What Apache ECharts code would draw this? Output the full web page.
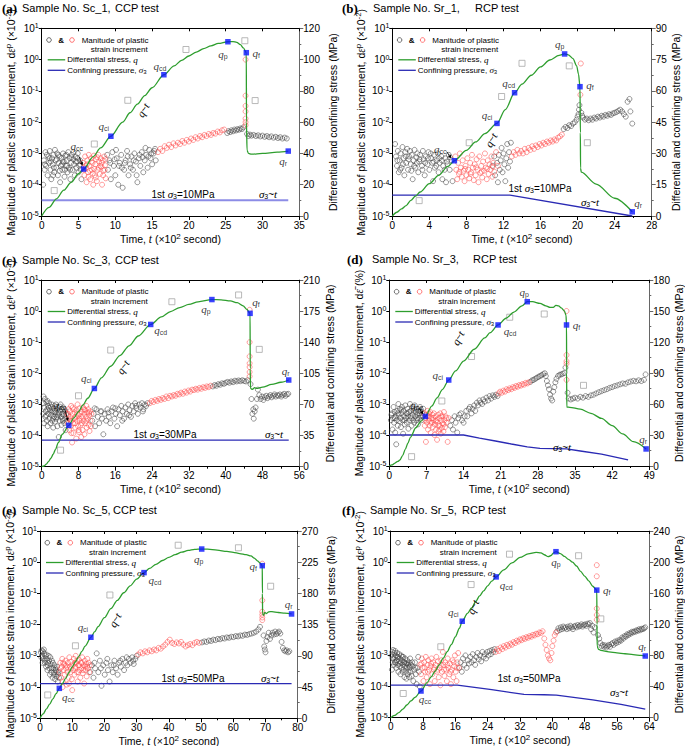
<!DOCTYPE html>
<html><head><meta charset="utf-8">
<script src="https://cdn.jsdelivr.net/npm/echarts@6/dist/echarts.min.js"></script>
<style>html,body{margin:0;padding:0;background:#fff;}#c{width:685px;height:746px;}</style>
</head><body><div id="c"></div>
<script>
// ================= DATA =================
const logTicks = [1e-5, 1e-4, 1e-3, 1e-2, 1e-1, 1, 10];
const keyNames = ['cc', 'ci', 'cd', 'p', 'f', 'r'];

// ---- (a) Sc_1, CCP ----
const xTicksA = [0, 5, 10, 15, 20, 25, 30, 35];
const yTicksA = [0, 20, 40, 60, 80, 100, 120];
const blackA = [[0.2,1e-4],[0.3,6e-4],[0.4,3e-4],[0.5,1.1e-3],[0.6,4e-4],[0.8,2e-4],[0.9,8e-4],[1.0,5e-4],[1.1,1.2e-3],[1.2,3e-4],[1.3,1.5e-4],[1.4,7e-4],[1.5,4.5e-4],[1.6,9e-4],[1.7,2.5e-4],[1.8,1.3e-3],[1.9,6e-4],[2.0,3.5e-4],[2.1,1e-3],[2.2,2e-4],[2.3,5e-4],[2.4,8e-4],[2.5,1.2e-4],[2.6,4e-4],[2.7,7e-4],[2.8,3e-4],[2.9,1e-3],[3.0,5.5e-4],[3.1,1.8e-4],[3.2,8.5e-4],[3.3,4e-4],[3.4,6e-4],[3.5,2.5e-4],[3.6,1.1e-3],[3.7,3.5e-4],[3.8,7e-4],[3.9,1.5e-4],[4.0,5e-4],[4.1,9e-4],[4.2,3e-4],[4.3,6.5e-4],[4.4,4.5e-4],[4.5,2e-4],[4.6,8e-4],[4.7,3.5e-4],[4.8,5.5e-4],[4.9,1e-3],[5.0,2.5e-4],[5.1,4e-4],[5.2,6e-4],[5.3,3e-4],[5.4,1.5e-4],[0.7,9e-4],[1.25,5.5e-4],[2.05,6.5e-4],[2.75,4.5e-4],[3.35,9e-4],[3.85,3e-4],[4.35,1.1e-3],[4.85,7e-4],[1.55,2e-4],[2.45,2.8e-4],[0.45,4.5e-4],[1.05,7e-4],[1.65,3.5e-4],[2.25,9e-4],[2.85,5.5e-4],[3.45,4e-4],[4.05,7.5e-4],[4.65,5.5e-4],[5.25,4.5e-4],[3.15,3e-4],
[8.9,9e-4],[9.0,3e-4],[9.2,6e-4],[9.4,1.5e-4],[9.6,1.1e-3],[9.8,4e-4],[10.0,2e-4],[10.2,7e-4],[10.4,1e-4],[10.6,5e-4],[10.8,9e-4],[11.0,8e-5],[11.2,3e-4],[11.4,6e-4],[11.6,1.2e-3],[11.8,2e-4],[12.0,4.5e-4],[12.2,8e-4],[12.4,3e-4],[12.6,1e-3],[12.8,5.5e-4],[13.0,1.2e-4],[13.2,7e-4],[13.4,4e-4],[13.6,1.1e-3],[13.8,2.5e-4],[14.0,6e-4],[14.2,9e-4],[14.4,3.5e-4],[14.6,1.3e-3],[14.8,7e-4],[15.0,4.5e-4],[15.2,1e-3],[15.4,1.4e-3],[15.5,6e-4],[9.3,5e-4],[10.1,1.3e-3],[10.9,3.5e-4],[11.7,8e-4],[12.5,6e-4],[13.3,9e-4],[14.1,1.5e-3],[14.9,1e-3],[9.9,6.5e-4],[12.9,2e-4],[10.5,4e-4],[11.3,5e-4],[12.1,3.5e-4],[13.7,7.5e-4],[14.5,8e-4],[15.3,1.2e-3],
[25.2,4.5e-3],[25.4,5.2e-3],[25.6,4.8e-3],[25.8,5.5e-3],[26.0,5.1e-3],[26.2,5.8e-3],[26.4,5.4e-3],[26.6,6e-3],[26.8,5.7e-3],[27.0,6.3e-3],[27.2,6e-3],[27.4,6.8e-3],
[27.9,4.2e-3],[28.1,3.6e-3],[28.3,4e-3],[28.5,3.7e-3],[28.8,3.9e-3],[29.1,3.6e-3],[29.4,3.8e-3],[29.7,3.5e-3],[30.0,3.7e-3],[30.3,3.4e-3],[30.6,3.6e-3],[30.9,3.3e-3],[31.2,3.5e-3],[31.5,3.2e-3],[31.8,3.4e-3],[32.1,3.1e-3],[32.4,3.3e-3],[32.7,3e-3],[33.0,3.2e-3],[33.3,3e-3]];
const redA = [[5.6,5e-4],[5.8,2e-4],[5.9,8e-4],[6.0,3.5e-4],[6.1,1.2e-4],[6.2,6e-4],[6.3,2.5e-4],[6.4,9e-4],[6.5,4e-4],[6.6,1.5e-4],[6.7,7e-4],[6.8,3e-4],[6.9,5e-4],[7.0,1e-4],[7.1,8.5e-4],[7.2,2e-4],[7.3,4.5e-4],[7.4,6.5e-4],[7.5,1.3e-4],[7.6,3e-4],[7.7,9e-4],[7.8,5.5e-4],[7.9,2.2e-4],[8.0,7e-4],[8.1,3.8e-4],[8.2,1e-4],[8.3,6e-4],[8.4,2.8e-4],[8.5,8e-4],[8.6,4.2e-4],[8.7,1.6e-4],[5.95,4e-4],[6.35,1.8e-4],[6.75,5.5e-4],[7.15,3.2e-4],[7.55,7.5e-4],[7.95,4e-4],[8.35,2e-4],[8.65,6.5e-4],[6.55,2.8e-4],[7.35,1.7e-4],[5.75,3e-4],[6.15,4.5e-4],[6.95,2.3e-4],[7.75,3.5e-4],[8.15,5e-4],[8.55,3e-4],
[15.8,1.1e-3],[16.1,1.4e-3],[16.4,1.2e-3],[16.7,1.7e-3],[17.0,1.5e-3],[17.3,1.9e-3],[17.6,1.6e-3],[17.9,2.1e-3],[18.2,1.8e-3],[18.5,2.2e-3],[18.8,2e-3],[19.1,2.5e-3],[19.4,2.2e-3],[19.7,2.7e-3],[20.0,2.4e-3],[20.3,3e-3],[20.6,2.7e-3],[20.9,3.3e-3],[21.2,3e-3],[21.5,3.6e-3],[21.8,3.3e-3],[22.1,3.9e-3],[22.4,3.6e-3],[22.7,4.2e-3],[23.0,3.9e-3],[23.3,4.5e-3],[23.6,4.3e-3],[23.9,5e-3],[24.2,4.7e-3],[24.5,5.5e-3],[24.8,5.8e-3],
[27.7,1.0],[27.7,7e-2],[27.7,3.3e-2],[27.7,2.2e-2],[27.7,1.3e-2],[27.7,1e-2],[27.7,8e-3]];
const grayA = [[1.7,6.5e-5],[7.15,2e-3],[11.7,5e-2],[19.6,2.1],[27.6,4],[29.0,4.9e-2]];
const qLineA = [[0,0],[1,5.5],[2,11],[3,16.5],[4,21.5],[5,27],[5.7,30],[7,38],[8,43.5],[9.4,51],[11,60],[12,66],[13,71.5],[14,77],[15,82],[16.6,90.3],[18,96],[19,99.5],[20,102.3],[21,104.8],[22,107],[23,108.8],[24,110.3],[25.3,111.4],[26,111.5],[26.5,111],[27,109.5],[27.4,107.5],[27.8,104.4],[27.82,60],[27.9,42],[28.1,40],[28.5,39.5],[30,40],[32,40.8],[33.5,41.5]];
const s3LineA = [[0,10],[33.5,10]];
const qKeysA = [[5.7,30],[9.4,51],[16.6,90.3],[25.3,111.4],[27.8,104.4],[33.5,41.5]];

// ---- (b) Sr_1, RCP ----
const xTicksB = [0, 4, 8, 12, 16, 20, 24, 28];
const yTicksB = [0, 15, 30, 45, 60, 75, 90];
const blackB = [[0.3,2e-3],[0.4,8e-4],[0.5,4e-4],[0.6,1.2e-3],[0.7,2.5e-4],[0.8,6e-4],[0.9,1e-3],[1.0,3.5e-4],[1.1,1.6e-3],[1.2,7e-4],[1.3,2e-4],[1.4,1.1e-3],[1.5,5e-4],[1.6,1.4e-3],[1.7,3e-4],[1.8,8e-4],[1.9,1.2e-3],[2.0,4.5e-4],[2.1,9e-4],[2.2,1.5e-4],[2.3,6e-4],[2.4,1.3e-3],[2.5,3.5e-4],[2.6,7.5e-4],[2.7,1e-3],[2.8,2.5e-4],[2.9,5.5e-4],[3.0,9e-4],[3.2,4e-4],[3.3,1.2e-3],[3.4,6.5e-4],[3.5,2e-4],[3.6,8e-4],[3.8,4.5e-4],[3.9,1.1e-3],[4.0,3e-4],[4.2,7e-4],[4.3,5e-4],[4.4,1.3e-4],[4.5,9e-4],[4.6,3.5e-4],[4.8,6e-4],[4.9,1e-3],[5.0,2.5e-4],[5.1,5e-4],[5.3,8e-4],[5.4,1.5e-4],[5.5,4e-4],[5.7,7e-4],[5.8,1.2e-4],[5.9,5.5e-4],[6.1,9e-4],[6.2,3e-4],[6.4,6e-4],[6.5,1.3e-4],[0.55,6e-4],[1.15,4.5e-4],[1.75,6.5e-4],[2.35,4e-4],[2.95,6.5e-4],[3.55,5e-4],[4.15,1e-3],[4.75,4e-4],[5.35,6e-4],[5.95,4.5e-4],[0.85,3e-4],[1.45,8e-4],[2.05,2.8e-4],[2.65,5e-4],[3.25,3e-4],[3.85,7e-4],[4.45,5.5e-4],[5.05,7e-4],[5.65,3e-4],[6.25,7.5e-4],
[10.8,4e-4],[11.0,8e-4],[11.1,2e-4],[11.3,5e-4],[11.4,1.2e-4],[11.5,9e-4],[11.6,3e-4],[11.7,6e-4],[11.8,1.5e-3],[11.9,2.5e-4],[12.0,1e-3],[12.1,4.5e-4],[12.2,1.3e-4],[12.3,7e-4],[12.4,2e-3],[12.5,3.5e-4],[12.6,1.1e-3],[12.7,5.5e-4],[12.8,2.2e-3],
[18.5,6e-3],[18.7,7e-3],[18.9,6.5e-3],[19.1,8e-3],[19.3,7.5e-3],[19.5,9e-3],[19.7,1e-2],[19.9,1.2e-2],[20.0,1.5e-2],[20.1,1.8e-2],[20.2,3.5e-2],[20.15,2.5e-2],
[20.4,2e-2],[20.5,1.6e-2],[20.6,1.4e-2],[20.8,1.2e-2],[21.0,1.3e-2],[21.2,1.15e-2],[21.4,1.3e-2],[21.6,1.2e-2],[21.8,1.4e-2],[22.0,1.3e-2],[22.2,1.5e-2],[22.4,1.4e-2],[22.6,1.6e-2],[22.8,1.5e-2],[23.0,1.7e-2],[23.2,1.6e-2],[23.4,1.8e-2],[23.6,1.7e-2],[23.8,1.9e-2],[24.0,2e-2],[24.2,2.1e-2],[24.4,2.3e-2],[24.6,2.5e-2],[24.8,2.2e-2],[25.0,1.8e-2],[25.2,1.5e-2],[25.4,4.5e-2],[25.6,5.5e-2],[25.7,2.2e-2],[25.9,9e-3]];
const redB = [[6.8,8e-4],[6.9,3e-4],[7.0,1.5e-4],[7.1,5e-4],[7.2,2.2e-4],[7.3,1e-3],[7.4,3.5e-4],[7.5,1.8e-4],[7.6,6e-4],[7.7,2.8e-4],[7.8,1.3e-4],[7.9,4e-4],[8.0,2e-4],[8.1,7e-4],[8.2,3e-4],[8.3,1.6e-4],[8.4,5e-4],[8.5,2.5e-4],[8.6,9e-4],[8.7,3.5e-4],[8.8,1.4e-4],[8.9,4.5e-4],[9.0,2e-4],[9.1,6.5e-4],[9.2,3e-4],[9.3,1.2e-4],[9.4,8e-4],[9.5,2.4e-4],[9.6,4e-4],[9.7,1.7e-4],[9.8,5.5e-4],[9.9,2.8e-4],[10.0,1e-3],[10.1,3.5e-4],[10.2,1.5e-4],[10.3,6e-4],[10.4,2.2e-4],[10.5,4.5e-4],[10.6,3e-4],[10.7,8e-4],[10.8,1.8e-4],[10.9,5e-4],[11.0,2.6e-4],[11.2,1.1e-3],[11.4,4e-4],[7.25,2.6e-4],[7.85,3.2e-4],[8.45,2.2e-4],[9.05,3.6e-4],[9.65,2.6e-4],[10.25,3.2e-4],[10.85,3.8e-4],
[12.9,8e-4],[13.1,1.1e-3],[13.3,9e-4],[13.5,1.3e-3],[13.7,1e-3],[13.9,1.2e-3],[14.1,1e-3],[14.3,1.4e-3],[14.5,1.1e-3],[14.7,1.5e-3],[14.9,1.3e-3],[15.1,1.7e-3],[15.3,1.4e-3],[15.5,1.8e-3],[15.7,1.6e-3],[15.9,2e-3],[16.1,1.8e-3],[16.3,2.2e-3],[16.5,2e-3],[16.7,2.4e-3],[16.9,2.2e-3],[17.1,2.6e-3],[17.3,2.4e-3],[17.5,2.8e-3],[17.7,2.6e-3],[17.9,3.2e-3],[18.1,3.5e-3],[18.3,4e-3],
[20.35,0.75],[20.3,7.5e-2]];
const grayB = [[2.9,3.1e-5],[8.3,2.2e-3],[11.8,6.6e-2],[14.0,0.76],[19.1,0.63],[21.05,2.2e-3]];
const qLineB = [[0,0],[0.5,1.8],[1,3.4],[1.5,5],[2,7.5],[2.5,9.5],[3,11.5],[4,15.5],[5,19.5],[6,23.8],[6.7,26.5],[8,31.5],[9,35.5],[10,39.5],[11.3,44.4],[12.2,51],[13.2,59.1],[14,63.2],[15,67.5],[16,71.5],[17,74.8],[18,77],[18.6,77.7],[19,77.3],[19.5,75.5],[19.9,72],[20.1,68],[20.26,62],[20.3,40],[20.32,23],[20.4,21],[22,15.3],[24,8.5],[25.9,2]];
const s3LineB = [[0,10],[12.7,10],[25.9,0]];
const qKeysB = [[6.7,26.5],[11.3,44.4],[13.2,59.1],[18.6,77.7],[20.26,62],[25.9,2]];

// ---- (c) Sc_3, CCP ----
const xTicksC = [0, 8, 16, 24, 32, 40, 48, 56];
const yTicksC = [0, 35, 70, 105, 140, 175, 210];
const blackC = [[0.3,5e-4],[0.4,1.8e-3],[0.5,2.5e-4],[0.6,8e-4],[0.7,1.5e-3],[0.8,4e-4],[0.9,6e-4],[1.0,1.2e-3],[1.1,3e-4],[1.2,7e-4],[1.3,2e-4],[1.4,9e-4],[1.5,5e-4],[1.6,1.1e-3],[1.7,3.5e-4],[1.8,6.5e-4],[1.9,2.5e-4],[2.0,8.5e-4],[2.1,4.5e-4],[2.2,1e-3],[2.3,3e-4],[2.4,6e-4],[2.5,1.8e-4],[2.6,7.5e-4],[2.7,4e-4],[2.8,9e-4],[2.9,2.8e-4],[3.0,5.5e-4],[3.1,1e-3],[3.2,3.5e-4],[3.3,7e-4],[3.4,2e-4],[3.5,4.5e-4],[3.6,8e-4],[3.7,9e-5],[3.8,5e-4],[3.9,3e-4],[4.0,6.5e-4],[4.1,1e-3],[4.2,4e-4],[4.3,2.2e-4],[4.4,7e-4],[4.5,5e-4],[4.6,3e-4],[4.7,8e-4],[4.8,4.5e-4],[4.9,2.5e-4],[5.0,6e-4],[5.1,3.5e-4],[5.2,1.5e-4],[5.3,5e-4],[5.4,2.8e-4],[0.35,1.1e-3],[0.95,4.5e-4],[1.55,8e-4],[2.15,5.5e-4],[2.75,6e-4],[3.35,4e-4],[3.95,8.5e-4],[4.55,3.5e-4],[5.15,6.5e-4],[1.25,1.3e-3],[2.45,3.5e-4],[3.65,5.5e-4],[4.85,7e-4],
[11.0,3e-4],[11.3,5e-4],[11.6,2e-4],[11.9,7e-4],[12.2,4e-4],[12.5,2.5e-4],[12.8,6e-4],[13.1,3.5e-4],[13.4,1.1e-4],[13.7,5e-4],[14.0,3e-4],[14.3,7e-4],[14.6,4e-4],[14.9,2.5e-4],[15.2,6e-4],[15.5,8e-4],[15.8,3.5e-4],[16.1,5e-4],[16.4,2e-4],[16.7,7e-4],[17.0,4.5e-4],[17.3,9e-4],[17.6,6e-4],[17.9,3.5e-4],[18.2,8e-4],[18.5,5e-4],[18.8,1e-3],[19.1,6.5e-4],[19.4,4e-4],[19.7,9e-4],[20.0,6e-4],[20.3,1.1e-3],[20.6,7.5e-4],[20.9,5e-4],[21.2,1e-3],[21.5,8e-4],[21.8,1.1e-3],[22.1,7e-4],[22.4,1e-3],[22.7,9e-4],[23.0,1.1e-3],[11.5,7.5e-4],[13.0,6e-4],[14.5,5.5e-4],[16.0,7.5e-4],[17.5,3e-4],[19.0,4.5e-4],[20.5,9e-4],[22.0,6e-4],
[37.2,3.8e-3],[37.6,4.2e-3],[38.0,4e-3],[38.4,4.5e-3],[38.8,4.3e-3],[39.2,4.8e-3],[39.6,4.6e-3],[40.0,5e-3],[40.4,5.3e-3],[40.8,5e-3],[41.2,5.5e-3],[41.6,5.2e-3],[42.0,5.8e-3],[42.4,5.5e-3],[42.8,5.9e-3],[43.2,5.6e-3],[43.6,6e-3],[44.0,5.7e-3],[44.4,5.5e-3],[44.8,6e-3],
[45.4,4.5e-3],[45.6,1.5e-3],[45.8,5e-4],[46.0,7e-4],[46.1,3.5e-4],[46.3,6e-4],[46.5,8e-4],[46.8,1.5e-3],[47.0,3e-3],[47.3,2e-3],[47.6,1.5e-3],[47.9,1.8e-3],[48.2,1.4e-3],[48.5,1.7e-3],[48.8,1.9e-3],[49.1,1.6e-3],[49.4,1.8e-3],[49.7,2e-3],[50.0,1.7e-3],[50.3,1.9e-3],[50.6,2.1e-3],[50.9,1.8e-3],[51.2,2e-3],[51.5,1.9e-3],[51.8,2.1e-3],[52.1,1.8e-3],[52.4,2e-3],[52.7,2.2e-3],[53.0,1.9e-3],[53.3,2.1e-3],[53.6,2.2e-3]];
const redC = [[5.6,5e-4],[5.7,2.5e-4],[5.8,7e-4],[5.9,3.5e-4],[6.0,1.5e-4],[6.1,6e-4],[6.2,4e-4],[6.3,2e-4],[6.4,9e-4],[6.5,3e-4],[6.6,6e-5],[6.7,5e-4],[6.8,2.5e-4],[6.9,1.2e-4],[7.0,7e-4],[7.1,3.5e-4],[7.2,5.5e-4],[7.3,1.8e-4],[7.4,4e-4],[7.5,8e-5],[7.6,6.5e-4],[7.7,3e-4],[7.8,1e-3],[7.9,2e-4],[8.0,4.5e-4],[8.1,1.3e-4],[8.2,7.5e-4],[8.3,3e-4],[8.4,5e-4],[8.5,2.2e-4],[8.6,9e-5],[8.7,6e-4],[8.8,4e-4],[8.9,1.5e-4],[9.0,8e-4],[9.1,3e-4],[9.2,5e-4],[9.3,1.1e-4],[9.4,6.5e-4],[9.5,2.5e-4],[9.6,4e-4],[9.7,9e-4],[9.8,1.8e-4],[9.9,5.5e-4],[10.0,3.5e-4],[10.1,7e-4],[10.2,2.2e-4],[10.3,4.5e-4],[10.4,1.4e-4],[10.5,6e-4],[10.6,3e-4],[10.8,5e-4],[5.75,4.5e-4],[6.25,3e-4],[6.75,8e-4],[7.25,2.5e-4],[7.75,5e-4],[8.25,3.5e-4],[8.75,2.5e-4],[9.25,7e-4],[9.75,3e-4],[10.25,5.5e-4],[10.7,2e-4],[6.45,1.2e-4],[8.05,1.5e-4],
[23.5,1.1e-3],[23.9,1.3e-3],[24.3,1.2e-3],[24.7,1.4e-3],[25.1,1.3e-3],[25.5,1.5e-3],[25.9,1.4e-3],[26.3,1.6e-3],[26.7,1.5e-3],[27.1,1.8e-3],[27.5,1.6e-3],[27.9,1.9e-3],[28.3,1.8e-3],[28.7,2e-3],[29.1,1.9e-3],[29.5,2.2e-3],[29.9,2.1e-3],[30.3,2.4e-3],[30.7,2.2e-3],[31.1,2.6e-3],[31.5,2.4e-3],[31.9,2.8e-3],[32.3,2.6e-3],[32.7,3e-3],[33.1,2.9e-3],[33.5,3.2e-3],[33.9,3e-3],[34.3,3.4e-3],[34.7,3.2e-3],[35.1,3.6e-3],[35.5,3.4e-3],[35.9,3.8e-3],[36.3,3.6e-3],[36.7,4e-3],
[45.2,1.1],[45.2,0.1],[45.2,3.5e-2],[45.2,2.1e-2],[45.2,1.6e-2],[45.2,1.1e-2],[45.2,8e-3]];
const grayC = [[4.1,3.4e-5],[8.0,1.9e-3],[15.0,5.6e-2],[28.3,2],[42.8,3.3],[47.3,5.9e-2]];
const qLineC = [[0,0],[0.5,0.8],[1,2.8],[1.5,6],[2,9.5],[2.5,14],[3,19.5],[3.6,27],[4.5,36.5],[5.9,46.5],[7,55],[8,62],[9,69.5],[10,77],[11.45,88],[13,100],[15,113],[17,125],[19,136],[21,147],[23.7,160],[26,168.5],[28,174.5],[30,179],[32,182.5],[34,185.5],[37,188],[39,187.7],[41,186.5],[42.5,184.5],[43.8,181],[44.6,177],[45.3,172.5],[45.33,110],[45.4,88],[45.8,87],[46.3,89],[46.7,88],[48,89.5],[50,92.5],[52,95],[53.7,97.5]];
const s3LineC = [[0,30],[53.7,30]];
const qKeysC = [[5.9,46.5],[11.45,88],[23.7,160],[37.0,188],[45.3,172.5],[53.7,97.5]];

// ---- (d) Sr_3, RCP ----
const xTicksD = [0, 7, 14, 21, 28, 35, 42, 49];
const yTicksD = [0, 30, 60, 90, 120, 150, 180];
const blackD = [[0.3,3e-4],[0.5,5e-4],[0.6,1.5e-4],[0.7,3.5e-4],[0.8,8e-4],[0.9,2.5e-4],[1.0,5.5e-4],[1.1,1.2e-4],[1.2,4e-4],[1.3,5e-5],[1.4,3e-4],[1.5,6e-4],[1.6,2e-4],[1.7,1e-3],[1.8,4.5e-4],[1.9,2.8e-4],[2.0,7e-4],[2.1,3.5e-4],[2.2,1.8e-4],[2.3,5e-4],[2.4,8e-4],[2.5,3e-4],[2.6,1.1e-4],[2.7,6e-4],[2.8,4e-4],[2.9,2.2e-4],[3.0,9e-4],[3.1,3.5e-4],[3.2,5e-4],[3.3,2.5e-4],[3.4,7e-4],[3.5,4e-4],[3.6,1.6e-4],[3.7,5.5e-4],[3.8,3e-4],[3.9,1e-3],[4.0,6e-4],[4.1,3.5e-4],[4.2,2e-4],[4.3,8e-4],[4.4,4.5e-4],[4.5,3e-4],[4.6,6e-4],[4.7,2.5e-4],[4.8,9e-4],[4.9,4e-4],[5.0,5.5e-4],[5.1,3e-4],[5.2,7e-4],[5.3,4.5e-4],[5.4,2.2e-4],[5.5,6e-4],[5.6,3.5e-4],[5.7,5e-4],[5.8,8e-4],[5.9,4e-4],[6.0,6.5e-4],[6.1,3e-4],[6.2,5e-4],[6.4,7e-4],[0.4,4.5e-4],[1.05,3.5e-4],[1.65,5e-4],[2.25,6.5e-4],[2.85,3e-4],[3.45,5e-4],[4.05,4e-4],[4.65,7e-4],[5.25,3.5e-4],[5.85,6e-4],[6.3,4e-4],
[11.5,2e-4],[11.8,3e-4],[12.0,1.5e-4],[12.3,4e-4],[12.5,2.5e-4],[12.8,1.2e-4],[13.0,3.5e-4],[13.2,4.5e-4],[13.5,5e-4],[13.7,3e-4],[14.0,2.5e-4],[14.2,4e-4],[14.5,6e-4],[14.7,4e-4],[15.0,7e-4],[15.2,8e-4],[15.5,5e-4],[15.7,7e-4],[16.0,9e-4],[16.2,6e-4],[16.5,1.1e-3],[16.7,9e-4],[17.0,1.3e-3],[17.2,1.1e-3],[17.5,1e-3],[17.7,1.4e-3],[18.0,1.2e-3],[18.3,1.6e-3],[18.6,1.3e-3],[18.9,1.8e-3],[19.2,1.5e-3],[19.5,1.9e-3],[19.8,1.7e-3],[20.1,2e-3],[20.4,1.8e-3],
[26.6,5.2e-3],[26.9,5.8e-3],[27.2,6e-3],[27.5,6.5e-3],[27.8,7e-3],[28.1,7.5e-3],[28.4,8e-3],[28.7,8.5e-3],[29.0,9.2e-3],[29.3,9.8e-3],[29.5,8e-3],[29.7,5.5e-3],[29.9,4e-3],[30.1,3e-3],[30.3,2e-3],[30.5,1.5e-3],[30.7,1.3e-3],[30.9,2.5e-3],[31.1,3.5e-3],[31.3,5e-3],[31.5,6.5e-3],[31.8,8e-3],[32.1,8.8e-3],[32.4,9e-3],[32.7,9.5e-3],[33.0,1e-2],[33.2,1.5e-2],
[33.6,2.3e-3],[33.8,1.5e-3],[34.2,1.4e-3],[34.6,1.5e-3],[35.0,1.6e-3],[35.5,1.5e-3],[36.0,1.7e-3],[36.5,1.6e-3],[37.0,1.8e-3],[37.5,1.7e-3],[38.0,1.9e-3],[38.5,2e-3],[39.0,2.2e-3],[39.5,2.4e-3],[40.0,2.6e-3],[40.5,2.8e-3],[41.0,3e-3],[41.5,3.3e-3],[42.0,3.5e-3],[42.5,3.8e-3],[43.0,4e-3],[43.5,4.3e-3],[44.0,4.6e-3],[44.5,4.5e-3],[45.0,5e-3],[45.5,5.3e-3],[46.0,5.6e-3],[46.5,5.4e-3],[47.0,5.8e-3],[47.5,5.5e-3],[48.0,6e-3],[48.3,9e-3]];
const redD = [[6.6,5e-4],[6.7,2e-4],[6.8,3.5e-4],[6.9,6e-5],[7.0,4.5e-4],[7.1,2.5e-4],[7.2,6e-4],[7.3,1.5e-4],[7.4,3e-4],[7.5,4e-4],[7.6,2e-4],[7.7,5.5e-4],[7.8,1.2e-4],[7.9,3.5e-4],[8.0,2.5e-4],[8.1,4.5e-4],[8.2,1.8e-4],[8.3,3e-4],[8.4,5e-4],[8.5,1e-4],[8.6,2.2e-4],[8.7,4e-4],[8.8,1.5e-4],[8.9,3e-4],[9.0,7e-5],[9.1,2.5e-4],[9.2,4.5e-4],[9.3,1.3e-4],[9.4,3.5e-4],[9.5,2e-4],[9.6,5e-4],[9.7,1.1e-4],[9.8,3e-4],[9.9,1.7e-4],[10.0,4e-4],[10.1,2.4e-4],[10.2,1.3e-4],[10.3,5.5e-4],[10.4,3e-4],[10.5,1.8e-4],[10.6,4e-4],[10.8,2.5e-4],[11.0,6e-5],[11.2,3.5e-4],[6.75,3e-4],[7.25,4e-4],[7.75,2.5e-4],[8.25,3.5e-4],[8.75,2.8e-4],[9.25,2e-4],[9.75,4e-4],[10.25,2.2e-4],[10.75,3.5e-4],[7.45,5e-4],[9.45,1.5e-4],
[20.6,2.2e-3],[20.9,2.5e-3],[21.2,2.3e-3],[21.5,2.7e-3],[21.8,2.5e-3],[22.1,3e-3],[22.4,2.8e-3],[22.7,3.2e-3],[23.0,3e-3],[23.3,3.5e-3],[23.6,3.3e-3],[23.9,3.8e-3],[24.2,3.6e-3],[24.5,4.1e-3],[24.8,3.9e-3],[25.1,4.4e-3],[25.4,4.2e-3],[25.7,4.8e-3],[26.0,4.6e-3],[26.3,5e-3],
[33.4,1.0],[33.4,3.8e-2],[33.4,2.4e-2],[33.4,2e-2],[33.4,6e-3]];
const grayD = [[4.2,2e-5],[9.9,1.25e-3],[15.5,3.4e-2],[22.7,0.63],[29.2,0.8],[36.6,4e-3]];
const qLineD = [[0,0],[0.5,1],[1,2.6],[1.6,4.5],[2,5.8],[2.5,10],[3,16],[3.5,22],[4,28],[5,37],[6,43.5],[6.8,48],[8,58],[9,66],[10,74],[11.2,83.2],[12.5,92],[14,101.5],[16,113],[18,124],[19,129],[20.5,136.5],[22,143],[23.5,149],[25,155],[26,159],[27,159],[28.4,157.4],[29.5,155],[30.3,153.5],[30.9,153.5],[31.4,155.5],[31.9,155],[32.4,153],[33,150],[33.3,146],[33.4,136.5],[33.42,90],[33.45,57],[34,56.8],[36,55],[38,51],[40,46],[42,39],[44,31],[46,23.5],[48.4,16.5]];
const s3LineD = [[0,30],[14,30],[17,27],[20,24.2],[23,21.3],[26,18.5],[28.4,17],[33.4,16.5],[36,14.5],[40,11.5],[45,6]];
const qKeysD = [[6.8,48],[11.2,83.2],[20.5,136.5],[26.0,159],[33.4,136.5],[48.4,16.5]];

// ---- (e) Sc_5, CCP ----
const xTicksE = [0, 10, 20, 30, 40, 50, 60, 70, 80];
const yTicksE = [0, 45, 90, 135, 180, 225, 270];
const blackE = [[0.3,1.3e-3],[0.5,1.5e-3],[0.7,1e-3],[0.9,1.4e-3],[1.1,8e-4],[1.3,1.2e-3],[1.5,6e-4],[1.7,1e-3],[1.9,4.5e-4],[2.1,8e-4],[2.3,3.5e-4],[2.5,6e-4],[2.7,1e-3],[2.9,4e-4],[3.1,2.5e-4],[3.3,5.5e-4],[3.5,3e-4],[3.7,7e-4],[3.9,2e-4],[4.1,4e-4],[4.3,2.5e-4],[4.5,5e-4],[4.7,1.8e-4],[4.9,3.5e-4],[5.1,2.2e-4],[5.3,4.5e-4],[5.5,1.5e-4],[5.7,3e-4],[5.9,2e-4],[0.4,9e-4],[0.8,6e-4],[1.2,1.6e-3],[1.6,7e-4],[2.0,1.1e-3],[2.4,5e-4],[2.8,7e-4],[3.2,9e-4],[3.6,4e-4],[4.0,6e-4],[4.4,3e-4],[4.8,4e-4],[5.2,3e-4],[5.6,2.5e-4],
[15.6,3e-4],[16.1,5e-4],[16.6,2e-4],[17.1,4e-4],[17.6,1.2e-3],[18.1,3e-4],[18.6,7e-4],[19.1,1.1e-4],[19.6,5e-4],[20.1,2.5e-4],[20.6,6e-4],[21.1,3.5e-4],[21.6,1.5e-4],[22.1,5e-4],[22.6,3e-4],[23.1,7e-4],[23.6,4e-4],[24.1,2.5e-4],[24.6,6e-4],[25.1,4.5e-4],[25.6,8e-4],[26.1,3.5e-4],[26.6,6e-4],[27.1,5e-4],[27.6,8e-4],[28.1,6e-4],[28.6,9e-4],[29.1,5.5e-4],[29.6,8e-4],[30.0,1e-3],[16.9,6e-4],[18.9,4e-4],[20.9,8e-4],[22.9,5e-4],[24.9,7e-4],[26.9,9e-4],[28.9,7e-4],
[50.3,2.7e-3],[51,2.9e-3],[51.7,2.8e-3],[52.4,3.1e-3],[53.1,3e-3],[53.8,3.3e-3],[54.5,3.2e-3],[55.2,3.5e-3],[55.9,3.4e-3],[56.6,3.7e-3],[57.3,3.6e-3],[58,3.9e-3],[58.7,3.8e-3],[59.4,4.1e-3],[60.1,4e-3],[60.8,4.3e-3],[61.5,4.2e-3],[62.2,4.5e-3],[62.9,4.4e-3],[63.6,4.8e-3],[64.3,4.7e-3],[65,5e-3],[65.7,5.2e-3],[66.4,5.5e-3],[67.1,6e-3],[67.8,7e-3],[68.3,8.5e-3],
[69.4,4.5e-3],[69.6,2e-3],[69.8,1.6e-3],[70.0,1.3e-3],[70.3,3e-3],[70.6,4e-3],[71,5.5e-3],[71.4,3.5e-3],[71.8,4.5e-3],[72.2,5.5e-3],[72.6,4.8e-3],[73,6e-3],[73.4,5e-3],[73.8,5.5e-3],[74.2,6e-3],[74.6,5.2e-3],[75,2.8e-3],[75.4,1.8e-3],[75.8,1.5e-3],[76.2,1.4e-3],[76.6,1.5e-3],[77,1.3e-3],[77.4,1.4e-3]];
const redE = [[6.1,3e-4],[6.3,6e-4],[6.5,2e-4],[6.7,4.5e-4],[6.9,8e-4],[7.1,1.5e-4],[7.3,3.5e-4],[7.5,5.5e-4],[7.7,2.5e-4],[7.9,7e-4],[8.1,4e-4],[8.3,1.2e-4],[8.5,3e-4],[8.7,6e-4],[8.9,2e-4],[9.1,9e-4],[9.3,4.5e-4],[9.5,3e-4],[9.7,6.5e-4],[9.9,1.8e-4],[10.1,5e-4],[10.3,3.5e-4],[10.5,8e-4],[10.7,2.5e-4],[10.9,4e-4],[11.1,1e-3],[11.3,6e-4],[11.5,3e-4],[11.7,1.5e-4],[11.9,5e-4],[12.1,7.5e-4],[12.3,3.5e-4],[12.5,2e-4],[12.7,6e-4],[12.9,4e-4],[13.1,9e-4],[13.3,2.8e-4],[13.5,5e-4],[13.7,1.3e-4],[13.9,7e-4],[14.1,3.5e-4],[14.3,5.5e-4],[14.5,2.2e-4],[14.7,8e-4],[14.9,4e-4],[15.1,6e-4],[15.3,3e-4],[7.0,1e-4],[9.0,1.3e-4],[10.0,8e-5],[8.0,5e-4],[11.0,4.5e-4],[12.0,3e-4],[13.0,6e-4],[14.0,4.5e-4],[6.4,4e-4],[7.2,6e-4],[8.4,4.5e-4],[9.6,4e-4],[10.8,6e-4],[12.2,5e-4],[13.4,3.5e-4],[14.6,4.5e-4],[15.4,5e-4],[11.6,7e-4],
[30.5,1.1e-3],[31.2,1.3e-3],[31.9,1.2e-3],[32.6,1.4e-3],[33.3,1.3e-3],[34,1.5e-3],[34.7,1.4e-3],[35.4,1.6e-3],[36.1,1.5e-3],[36.8,1.8e-3],[37.5,1.7e-3],[38.2,2e-3],[38.9,2.3e-3],[39.6,2.8e-3],[40.3,3.3e-3],[41,2.6e-3],[41.7,2.4e-3],[42.4,2.7e-3],[43.1,2.5e-3],[43.8,2.8e-3],[44.5,2.3e-3],[45.2,2e-3],[45.9,2.2e-3],[46.6,2.4e-3],[47.3,2.2e-3],[48,2.6e-3],[48.7,2.8e-3],[49.4,2.6e-3],
[69,0.9],[69,6e-2],[69,2.6e-2],[69,2.1e-2],[69,1.7e-2],[69,1.4e-2]];
const grayE = [[2.4,5.6e-5],[11,2.1e-3],[21.7,8.9e-2],[42.9,3.5],[61.6,2.9],[71.6,0.17]];
const qLineE = [[0,0],[1,6.5],[2,13.5],[3,20.5],[4,28],[5,35.5],[6,43.2],[7,50.5],[8,58],[9,66],[10,74],[11,81.5],[12,89],[13,96.5],[14,104],[15.8,116.8],[17,125],[18,132],[20,145],[22,158],[24,170],[26,181],[28,191],[30,200.5],[32.3,210],[34,216],[36,222],[38,227.5],[40,232],[42,236],[44,239.5],[46,242],[48,243.5],[50.2,244],[52,243.8],[55,242.5],[58,240.5],[60,239.3],[62,237.5],[64,236],[65.5,234],[66.5,231],[67.5,227],[68.3,224],[69.0,220],[69.05,180],[69.1,150],[69.4,148.5],[69.8,152.5],[70.3,151],[71,153.5],[72,153.8],[74,152.5],[76,151.5],[78.1,150.4]];
const s3LineE = [[0,50],[78.1,50]];
const qKeysE = [[6.0,43.2],[15.8,116.8],[32.3,210],[50.2,244],[69.0,220],[78.1,150.4]];

// ---- (f) Sr_5, RCP ----
const xTicksF = [0, 8, 16, 24, 32, 40, 48, 56, 64];
const yTicksF = [0, 40, 80, 120, 160, 200, 240];
const blackF = [[0.2,1e-3],[0.3,3.5e-4],[0.4,1.3e-3],[0.5,6e-4],[0.6,1.5e-3],[0.7,8e-4],[0.8,5e-4],[0.9,1.2e-3],[1.0,9e-4],[1.1,1.4e-3],[1.2,6e-4],[1.3,1e-3],[1.4,4e-4],[1.5,7e-4],[1.6,1.2e-3],[1.7,5e-4],[1.8,9e-4],[1.9,3e-4],[2.0,6.5e-4],[2.1,1.1e-3],[2.2,4.5e-4],[2.3,8e-4],[2.4,2.5e-4],[2.5,6e-4],[2.6,1e-3],[2.7,4e-4],[2.8,7e-4],[2.9,3e-4],[3.0,5e-4],[3.1,9e-4],[3.2,3.5e-4],[3.3,6e-4],[3.4,2e-4],[3.5,4.5e-4],[3.6,8e-4],[3.7,3e-4],[3.8,5.5e-4],[3.9,1.8e-4],[4.0,4e-4],[4.1,7e-4],[4.2,2.5e-4],[4.3,5e-4],[4.4,3e-4],[4.5,6e-4],[4.6,2e-4],[4.7,4e-4],[4.8,8e-4],[4.9,3e-4],[5.0,5e-4],[5.2,2.2e-4],[5.4,4.5e-4],[5.6,1.5e-4],[5.8,3.5e-4],[6.0,6e-4],[6.2,2.5e-4],[6.4,1.2e-4],[6.6,4e-4],[6.8,9e-4],[7.0,3e-4],[7.2,1e-4],[0.45,8e-4],[1.05,6e-4],[1.65,9e-4],[2.25,5.5e-4],[2.85,9e-4],[3.45,6e-4],[4.05,5.5e-4],[4.65,4.5e-4],[5.3,6e-4],[6.1,4e-4],
[17.0,4e-4],[17.3,6e-4],[17.6,3e-4],[17.9,8e-4],[18.2,5e-4],[18.5,1e-3],[18.8,4e-4],[19.1,7e-4],[19.4,5.5e-4],[19.7,9e-4],[20.0,6e-4],[20.3,1.1e-3],[20.6,7e-4],[20.9,5e-4],[21.2,9e-4],[21.5,1.2e-3],[21.8,7.5e-4],[22.1,1e-3],[22.4,6.5e-4],[22.7,1.3e-3],[23.0,9e-4],[23.3,1.1e-3],[23.6,8e-4],[23.9,1.3e-3],[24.2,1e-3],[24.5,1.4e-3],[24.8,1.1e-3],[25.1,1.5e-3],[25.4,1.3e-3],[25.7,1.6e-3],
[41.2,6e-3],[41.5,7.5e-3],[41.8,6.5e-3],[42.1,8e-3],[42.4,7e-3],[42.7,8.5e-3],[43.0,7.5e-3],[43.3,8e-3],[43.6,7e-3],[43.9,8.5e-3],[44.2,7.5e-3],[44.5,9e-3],[44.8,8e-3],[45.1,7e-3],[45.4,8.5e-3],[45.7,9e-3],[46.0,8e-3],[46.3,9.5e-3],[46.6,8.5e-3],[46.9,9e-3],[47.2,1e-2],[47.5,8.5e-3],[47.8,9.5e-3],[48.1,1e-2],[48.4,9e-3],[48.7,1.05e-2],[49.0,1e-2],[49.3,1.1e-2],[49.6,7e-3],[49.9,9e-3],[50.2,5.5e-3],[50.5,8e-3],
[51.3,4.5e-3],[51.6,3.5e-3],[51.9,2.5e-3],[52.2,2e-3],[52.5,2.2e-3],[52.8,1.9e-3],[53.1,2.1e-3],[53.4,1.8e-3],[53.7,2e-3],[54.0,2.2e-3],[54.3,1.9e-3],[54.6,2.3e-3],[54.9,2.5e-3],[55.2,2.2e-3],[55.5,2.8e-3],[55.8,2.5e-3],[56.1,3e-3],[56.4,2.7e-3],[56.7,3.2e-3],[57.0,3e-3],[57.3,3.8e-3],[57.6,3.5e-3],[57.9,4.2e-3],[58.2,4e-3],[58.5,4.8e-3],[58.8,4.5e-3],[59.1,5.2e-3],[59.4,5e-3],[59.7,5.8e-3],[60.0,5.5e-3],[60.3,6e-3],[60.6,5.8e-3],[60.9,6.5e-3],[61.2,6.2e-3],[61.5,7e-3],[61.8,6.5e-3],[62.1,7.2e-3],[62.4,7e-3],[62.7,7.5e-3],[63.0,8e-3]];
const redF = [[7.3,5e-4],[7.5,2.5e-4],[7.7,8e-4],[7.9,4e-4],[8.1,1.5e-4],[8.3,6e-4],[8.5,3e-4],[8.7,9e-4],[8.9,2e-4],[9.1,5e-4],[9.3,7e-4],[9.5,3.5e-4],[9.7,1.2e-4],[9.9,4.5e-4],[10.1,8e-4],[10.3,2.5e-4],[10.5,6e-4],[10.7,3.5e-4],[10.9,1.5e-4],[11.1,5e-4],[11.3,9e-4],[11.5,3e-4],[11.7,6.5e-4],[11.9,2e-4],[12.1,4e-4],[12.3,1.1e-4],[12.5,7e-4],[12.7,3e-4],[12.9,1.3e-3],[13.1,5e-4],[13.3,2.2e-4],[13.5,6e-4],[13.7,3.5e-4],[13.9,1.5e-4],[14.1,8e-4],[14.3,4e-4],[14.5,2.5e-4],[14.7,5.5e-4],[14.9,1.2e-4],[15.1,3.5e-4],[15.3,7e-4],[15.5,2e-4],[15.7,4.5e-4],[15.9,1e-3],[16.1,3e-4],[16.3,1.5e-4],[16.5,6e-4],[16.7,1.2e-3],[16.9,4e-4],[7.6,5.5e-4],[8.4,4e-4],[9.2,3e-4],[10.0,5.5e-4],[10.8,4e-4],[11.6,3.5e-4],[12.4,5e-4],[13.2,3.5e-4],[14.0,5e-4],[14.8,3e-4],[15.6,6e-4],[16.4,4e-4],
[26.0,1.3e-3],[26.4,1.6e-3],[26.8,1.4e-3],[27.2,1.8e-3],[27.6,1.6e-3],[28.0,2e-3],[28.4,1.8e-3],[28.8,2.2e-3],[29.2,2e-3],[29.6,2.4e-3],[30.0,2.2e-3],[30.4,2.7e-3],[30.8,2.5e-3],[31.2,3e-3],[31.6,2.8e-3],[32.0,3.3e-3],[32.4,3.1e-3],[32.8,3.6e-3],[33.2,3.4e-3],[33.6,3.9e-3],[34.0,3.7e-3],[34.4,4.2e-3],[34.8,4e-3],[35.2,4.6e-3],[35.6,4.4e-3],[36.0,5e-3],[36.4,4.8e-3],[36.8,5.5e-3],[37.2,5.3e-3],[37.6,6e-3],
[38.0,3.5e-3],[38.3,2.2e-3],[38.6,1.5e-3],[38.9,1e-3],[39.2,8e-4],[39.5,7e-4],[39.8,1.2e-3],[40.0,2e-3],[40.3,3e-3],[40.6,4.5e-3],[40.9,5.5e-3],
[51,0.8],[51,0.35],[51,3.2e-2],[51,2e-2],[51,1.4e-2]];
const grayF = [[3.1,6e-5],[12.4,1.9e-3],[19.9,0.19],[29.4,1.8],[46.5,1.6],[52,1.5e-2]];
const qLineF = [[0,0],[1,3],[2,6.5],[3,11],[4,16.3],[5,21.5],[6,26],[7.5,34.3],[9,45],[10,52.5],[11,60],[12,68],[13,76.5],[14,85],[15,94],[16,104],[17,115],[17.7,124],[19,134],[20,141],[21,149],[22,156.5],[23,163],[24,169.5],[25,175.5],[26.1,181],[28,190],[30,199],[32,206],[34,210.5],[36,212.5],[37.2,212],[38,209.5],[39,207],[39.7,208.5],[40.3,212],[40.9,213.4],[42,211],[43,207.5],[44,203.5],[45,200],[46,195],[47,188],[48,182],[49,176],[50,169],[51,164],[51.05,120],[51.1,92],[51.4,88],[52,86.5],[54,84.5],[56,83.3],[58,82.2],[60,81],[62,80],[63,79.3]];
const s3LineF = [[0,42],[16.5,42],[25,36],[33,30],[38,29.5],[41,29],[50,23],[57,17],[63,11]];
const qKeysF = [[7.5,34.3],[17.7,124],[26.1,181],[40.9,213.4],[51.0,164],[63,79.3]];

// ================= LAYOUT / STYLE =================
const FONT = '"Liberation Sans", Arial, Helvetica, sans-serif';
const SERIF = '"Liberation Serif", "Times New Roman", serif';
const C_BLACK = '#454545', C_RED = '#ff5050', C_GREEN = '#2e9e2e', C_BLUE = '#2a2ab4', C_KEY = '#0a14ff';

function rich(fs) {
  const sm = Math.max(6, Math.round(fs * 0.72));
  return {
    i: {fontFamily: SERIF, fontStyle: 'italic', fontSize: fs + 1, color: '#000'},
    sf: {fontFamily: SERIF, fontSize: fs + 1, color: '#000'},
    sup: {fontFamily: FONT, fontSize: sm, padding: [0, 0, Math.round(fs * 0.5), 0], color: '#000'},
    sub: {fontFamily: FONT, fontSize: sm, padding: [Math.round(fs * 0.45), 0, 0, 0], color: '#000'}
  };
}

const NAME_L = 'Magnitude of plastic strain increment, d{i|ε}{sup|p} (×10{sup|-2})';
const NAME_LD = 'Magnitude of plastic strain increment, d{i|ε̄} (%)';

const PANELS = [
  {grid:{left:41.7,top:28.3,width:257.6,height:187.7}, lg:24, rg:28, xt:xTicksA, yt:yTicksA, black:blackA, red:redA, gray:grayA, q:qLineA, s3:s3LineA, keys:qKeysA, yName:NAME_L, blue:'#8c8ce6', blueW:2,
   off:[[-7,-23],[-7,-10],[-4,-9],[-5,12],[10,0],[-5,10]], arrow:[79.3,156.7,82.5,165.5],
   title:{y:8, tag:'(a)', tx:2, s:'Sample No. Sc_1,', sx:22, t:'CCP test', ttx:115},
   qt:[143,110,1.05], s1:{x:183,y:194,text:'1st {i|σ}{sub|3}=10MPa'}, s2:{x:268,y:194}},
  {grid:{left:392.3,top:28.3,width:259.4,height:187.7}, lg:25, rg:16, xt:xTicksB, yt:yTicksB, black:blackB, red:redB, gray:grayB, q:qLineB, s3:s3LineB, keys:qKeysB, yName:NAME_L, blue:C_BLUE, blueW:1.3,
   off:[[-14,-12],[-10,-8],[-6,-10],[-5,-10],[10,-2],[6,-9]], arrow:[446.7,151.7,451.3,158.3],
   title:{y:8, tag:'(b)', tx:342, s:'Sample No. Sr_1,', sx:373, t:'RCP test', ttx:475},
   qt:[491,140,1.1], s1:{x:540,y:188,text:'1st {i|σ}{sub|3}=10MPa'}, s2:{x:590,y:202}},
  {grid:{left:41.7,top:280,width:257.6,height:186.7}, lg:24, rg:25, xt:xTicksC, yt:yTicksC, black:blackC, red:redC, gray:grayC, q:qLineC, s3:s3LineC, keys:qKeysC, yName:NAME_L, blue:C_BLUE, blueW:1.3,
   off:[[-9,-20],[-8,-10],[10,6],[-6,9],[6,-11],[-3,-9]], arrow:[65,410,68,421],
   title:{y:260, tag:'(c)', tx:2, s:'Sample No. Sc_3,', sx:22, t:'CCP test', ttx:115},
   qt:[123,367,1.0], s1:{x:165,y:434,text:'1st {i|σ}{sub|3}=30MPa'}, s2:{x:274,y:434}},
  {grid:{left:389.3,top:280,width:260,height:186}, lg:23, rg:22, xt:xTicksD, yt:yTicksD, black:blackD, red:redD, gray:grayD, q:qLineD, s3:s3LineD, keys:qKeysD, yName:NAME_LD, blue:C_BLUE, blueW:1.3,
   off:[[-9,-11],[-11,-5],[12,6],[-3,-10],[10,0],[-3,-10]], arrow:[419,408.3,423.3,414.3],
   title:{y:259, tag:'(d)', tx:347, s:'Sample No. Sr_3,', sx:372, t:'RCP test', ttx:473},
   qt:[458,338,1.1], s1:null, s2:{x:562,y:447}},
  {grid:{left:40,top:531,width:257.7,height:187.3}, lg:24, rg:28, xt:xTicksE, yt:yTicksE, black:blackE, red:redE, gray:grayE, q:qLineE, s3:s3LineE, keys:qKeysE, yName:NAME_L, blue:C_BLUE, blueW:1.3,
   off:[[9,9],[-8,-10],[11,7],[-3,10],[-9,0],[-3,-10]], arrow:null,
   title:{y:510, tag:'(e)', tx:2, s:'Sample No. Sc_5,', sx:22, t:'CCP test', ttx:113},
   qt:[115,620,1.1], s1:{x:193,y:678,text:'1st {i|σ}{sub|3}=50MPa'}, s2:{x:270,y:678}},
  {grid:{left:390.7,top:531,width:258.6,height:186.7}, lg:24, rg:22, xt:xTicksF, yt:yTicksF, black:blackF, red:redF, gray:grayF, q:qLineF, s3:s3LineF, keys:qKeysF, yName:NAME_L, blue:C_BLUE, blueW:1.3,
   off:[[4,8],[-9,-9],[10,8],[0,10],[10,0],[-3,-10]], arrow:null,
   title:{y:510, tag:'(f)', tx:342, s:'Sample No. Sr_5,', sx:370, t:'RCP test', ttx:462},
   qt:[473,607,1.15], s1:{x:529,y:678,text:'1st {i|σ}{sub|3}=50MPa'}, s2:{x:619,y:692}}
];

function txt(x, y, text, fs, o) {
  o = o || {};
  return {type:'text', x:x, y:y, rotation:o.rot || 0, silent:true, z:100,
    style:{text:text, fill:'#000', font:(o.weight || 'normal') + ' ' + fs + 'px ' + (o.family || FONT),
      align:o.align || 'left', verticalAlign:'middle', textAlign:o.align || 'left', textVerticalAlign:'middle', rich:rich(fs)}};
}
function circ(x, y, color) {
  return {type:'circle', shape:{cx:x, cy:y, r:2.3}, style:{fill:'none', stroke:color, lineWidth:0.8}, silent:true, z:100};
}
function seg(x1, y1, x2, y2, color, w) {
  return {type:'line', shape:{x1:x1, y1:y1, x2:x2, y2:y2}, style:{stroke:color, lineWidth:w}, silent:true, z:100};
}
function arrowEls(a) {
  const [x1, y1, x2, y2] = a;
  const ang = Math.atan2(y2 - y1, x2 - x1), L = 3.2, W = 1.8;
  const bx = x2 - L * Math.cos(ang), by = y2 - L * Math.sin(ang);
  return [seg(x1, y1, bx, by, '#000', 0.9),
    {type:'polygon', shape:{points:[[x2, y2], [bx + W * Math.sin(ang), by - W * Math.cos(ang)], [bx - W * Math.sin(ang), by + W * Math.cos(ang)]]}, style:{fill:'#000'}, silent:true, z:100}];
}

const option = {animation:false, backgroundColor:'#fff', grid:[], xAxis:[], yAxis:[], series:[], graphic:{elements:[]}};
const G = option.graphic.elements;

PANELS.forEach(function (p, i) {
  const g = p.grid;
  option.grid.push({left:g.left, top:g.top, width:g.width, height:g.height, containLabel:false, outerBoundsMode:'none'});
  const xMin = p.xt[0], xMax = p.xt[p.xt.length - 1], xInt = p.xt[1] - p.xt[0];
  const yMax = p.yt[p.yt.length - 1], yInt = p.yt[1] - p.yt[0];
  const axLine = {show:true, onZero:false, lineStyle:{color:'#000', width:1}};
  option.xAxis.push({gridIndex:i, type:'value', min:xMin, max:xMax, interval:xInt, position:'bottom',
    axisLine:axLine, axisTick:{show:true, inside:false, length:4, lineStyle:{color:'#000'}},
    minorTick:{show:true, splitNumber:2, length:2, lineStyle:{color:'#000'}}, splitLine:{show:false}, minorSplitLine:{show:false},
    axisLabel:{color:'#000', fontSize:10, fontFamily:FONT, margin:4},
    name:'Time, {i|t} (×10{sup|2} second)', nameLocation:'middle', nameGap:16,
    nameTextStyle:{color:'#000', fontSize:10.5, fontFamily:FONT, rich:rich(10.5)}});
  option.xAxis.push({gridIndex:i, type:'value', min:xMin, max:xMax, interval:xInt, position:'top',
    axisLine:axLine, axisTick:{show:true, inside:true, length:3, lineStyle:{color:'#000'}},
    minorTick:{show:false}, splitLine:{show:false}, axisLabel:{show:false}});
  option.yAxis.push({gridIndex:i, type:'log', logBase:10, min:logTicks[0], max:logTicks[logTicks.length - 1], splitNumber:logTicks.length - 1, position:'left',
    axisLine:axLine, axisTick:{show:true, inside:false, length:3, lineStyle:{color:'#000'}}, splitLine:{show:false},
    axisLabel:{color:'#000', fontSize:10, fontFamily:FONT, margin:3, rich:rich(10),
      formatter:function (v) { return '10{sup|' + Math.round(Math.log10(v)) + '}'; }},
    name:p.yName, nameLocation:'middle', nameGap:p.lg, nameRotate:90,
    nameTextStyle:{color:'#000', fontSize:10.5, fontFamily:FONT, rich:rich(10.5)}});
  option.yAxis.push({gridIndex:i, type:'value', min:0, max:yMax, interval:yInt, position:'right',
    axisLine:{show:true, onZero:false, lineStyle:{color:'#666', width:1}}, axisTick:{show:true, inside:false, length:4, lineStyle:{color:'#666'}},
    minorTick:{show:true, splitNumber:2, length:2, lineStyle:{color:'#666'}}, splitLine:{show:false}, minorSplitLine:{show:false},
    axisLabel:{color:'#000', fontSize:10, fontFamily:FONT, margin:4},
    name:'Differential and confining stress (MPa)', nameLocation:'middle', nameGap:p.rg, nameRotate:90,
    nameTextStyle:{color:'#000', fontSize:10.5, fontFamily:FONT}});
  const xi = 2 * i, yl = 2 * i, yr = 2 * i + 1;
  option.series.push({type:'scatter', xAxisIndex:xi, yAxisIndex:yl, data:p.gray, symbol:'rect', symbolSize:6, silent:true, z:2,
    itemStyle:{color:'rgba(0,0,0,0)', borderColor:'#a8a8a8', borderWidth:1}});
  option.series.push({type:'scatter', xAxisIndex:xi, yAxisIndex:yl, data:p.black, symbol:'circle', symbolSize:5, silent:true, z:3,
    itemStyle:{color:'rgba(0,0,0,0)', borderColor:C_BLACK, borderWidth:0.7}});
  option.series.push({type:'scatter', xAxisIndex:xi, yAxisIndex:yl, data:p.red, symbol:'circle', symbolSize:5, silent:true, z:3,
    itemStyle:{color:'rgba(0,0,0,0)', borderColor:C_RED, borderWidth:0.7}});
  option.series.push({type:'line', xAxisIndex:xi, yAxisIndex:yr, data:p.s3, symbol:'none', silent:true, z:4,
    lineStyle:{color:p.blue, width:p.blueW}});
  option.series.push({type:'line', xAxisIndex:xi, yAxisIndex:yr, data:p.q, symbol:'none', silent:true, z:5, smooth:0.3, smoothMonotone:'x',
    lineStyle:{color:C_GREEN, width:1.3}});
  option.series.push({type:'scatter', xAxisIndex:xi, yAxisIndex:yr, symbol:'rect', symbolSize:5.5, silent:true, z:6,
    itemStyle:{color:C_KEY},
    data:p.keys.map(function (k, j) {
      return {value:k, label:{show:true, position:[2.75 + p.off[j][0], 2.75 + p.off[j][1]], align:'center', verticalAlign:'middle',
        formatter:'{i|q}{sub|' + keyNames[j] + '}', rich:rich(10), color:'#000'}};
    })});

  const t = p.title;
  G.push(txt(t.tx, t.y, t.tag, 13, {weight:'bold', family:SERIF}));
  G.push(txt(t.sx, t.y, t.s, 11));
  G.push(txt(t.ttx, t.y, t.t, 11));
  const gl = g.left, gt = g.top;
  G.push(circ(gl + 7.3, gt + 11.7, C_BLACK));
  G.push(txt(gl + 16.5, gt + 11.7, '&', 8, {weight:'bold'}));
  G.push(circ(gl + 30.3, gt + 11.7, C_RED));
  G.push(txt(gl + 40, gt + 11.7, 'Manitude of plastic', 8));
  G.push(txt(gl + 49, gt + 21, 'strain increment', 8));
  G.push(seg(gl + 6, gt + 31.5, gl + 23.5, gt + 31.5, C_GREEN, 1.3));
  G.push(txt(gl + 25.5, gt + 31.5, 'Differential stress, {i|q}', 8));
  G.push(seg(gl + 6, gt + 42, gl + 23.5, gt + 42, C_BLUE, 1.3));
  G.push(txt(gl + 25.5, gt + 42, 'Confining pressure, {i|σ}{sub|3}', 8));
  G.push(txt(p.qt[0], p.qt[1], '{i|q}~{i|t}', 10, {rot:p.qt[2], align:'center'}));
  if (p.s1) G.push(txt(p.s1.x, p.s1.y, p.s1.text, 10, {align:'center'}));
  G.push(txt(p.s2.x, p.s2.y, '{i|σ}{sub|3}~{i|t}', 10, {align:'center'}));
  if (p.arrow) arrowEls(p.arrow).forEach(function (e) { G.push(e); });
});

const chart = echarts.init(document.getElementById('c'), null, {renderer:'svg', width:685, height:746});
chart.setOption(option);
</script></body></html>
